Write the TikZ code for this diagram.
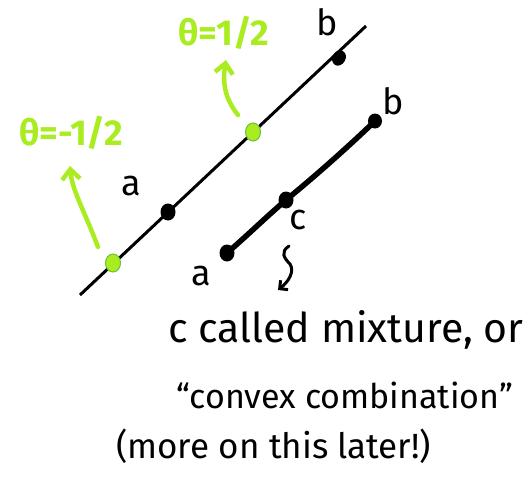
\documentclass[tikz,border=0pt]{standalone}
\usepackage{fontspec}
\setmainfont{Fira Sans}
\usetikzlibrary{arrows.meta,shapes.geometric}
\definecolor{lime}{HTML}{A9EC1F}
\definecolor{limedark}{HTML}{6CC13A}
\tikzset{
  blackdot/.style={ellipse, fill=black, inner sep=0pt, minimum width=15pt, minimum height=17pt},
  greendot/.style={ellipse, fill=lime, draw=limedark, line width=1pt, inner sep=0pt, minimum width=15pt, minimum height=18pt},
  lbl/.style={inner sep=0pt, font=\fontsize{36}{36}\selectfont},
  glbl/.style={inner sep=0pt, text=lime, font=\fontsize{36}{36}\selectfont\bfseries},
  garrow/.style={draw=lime, line width=4.5pt, line cap=round, -{Straight Barb[length=10pt,width=18pt,line width=4.5pt]}},
  body/.style={inner sep=0pt, anchor=west},
}
\begin{document}
\begin{tikzpicture}[x=1pt,y=-1pt]
\useasboundingbox (0,0) rectangle (527,479);
% long line
\coordinate (s) at (80,295);
\coordinate (e) at (366,26);
\draw[line width=3pt] (s) -- (e);
\node[greendot] (gm) at (113,263) {};
\node[blackdot] (a1) at (168,212) {};
\node[greendot] (gp) at (253,132) {};
\node[blackdot, rotate=-30, minimum width=13pt, minimum height=16pt] (b1) at (339,58) {};
\node[lbl] (la1) at (131,186) {a};
\node[lbl] (lb1) at (327,22) {b};
% green labels and arrows
\node[glbl] (tm) at (71,133) {θ=-1/2};
\node[glbl] (tp) at (224,33) {θ=1/2};
\coordinate (gms) at (98,247);
\coordinate (gme) at (70,166);
\draw[garrow] (gms) .. controls (84,210) and (72,190) .. (gme);
\coordinate (gps) at (238,115);
\coordinate (gpe) at (226,60);
\draw[garrow] (gps) .. controls (226,100) and (222,85) .. (gpe);
% segment
\node[blackdot] (a2) at (227,253) {};
\node[blackdot] (c2) at (286,200) {};
\node[blackdot, minimum width=14pt, minimum height=15pt] (b2) at (375,121) {};
\draw[line width=5.5pt, line cap=round] (a2.center) .. controls (250,233) and (265,218) .. (c2.center) .. controls (320,172) and (350,145) .. (b2.center);
\node[lbl] (la2) at (201,276) {a};
\node[lbl] (lc2) at (298,220) {c};
\node[lbl] (lb2) at (393,101) {b};
% squiggle arrow
\coordinate (qs) at (289,246);
\coordinate (qe) at (278,290);
\draw[line width=3pt, line cap=round, -{Straight Barb[length=6pt,width=12pt,line width=3pt]}] (qs) .. controls (280,252) and (284,258) .. (290,264) .. controls (295,272) and (288,282) .. (qe);
% body text
\node[body, font=\fontsize{41}{41}\selectfont] (t1) at (168,330) {c called mixture, or};
\node[body, font=\fontsize{34}{34}\selectfont] (t2) at (176,395) {“convex combination”};
\node[body, font=\fontsize{35}{35}\selectfont] (t3) at (116,446) {(more on this later!)};
\end{tikzpicture}
\end{document}
